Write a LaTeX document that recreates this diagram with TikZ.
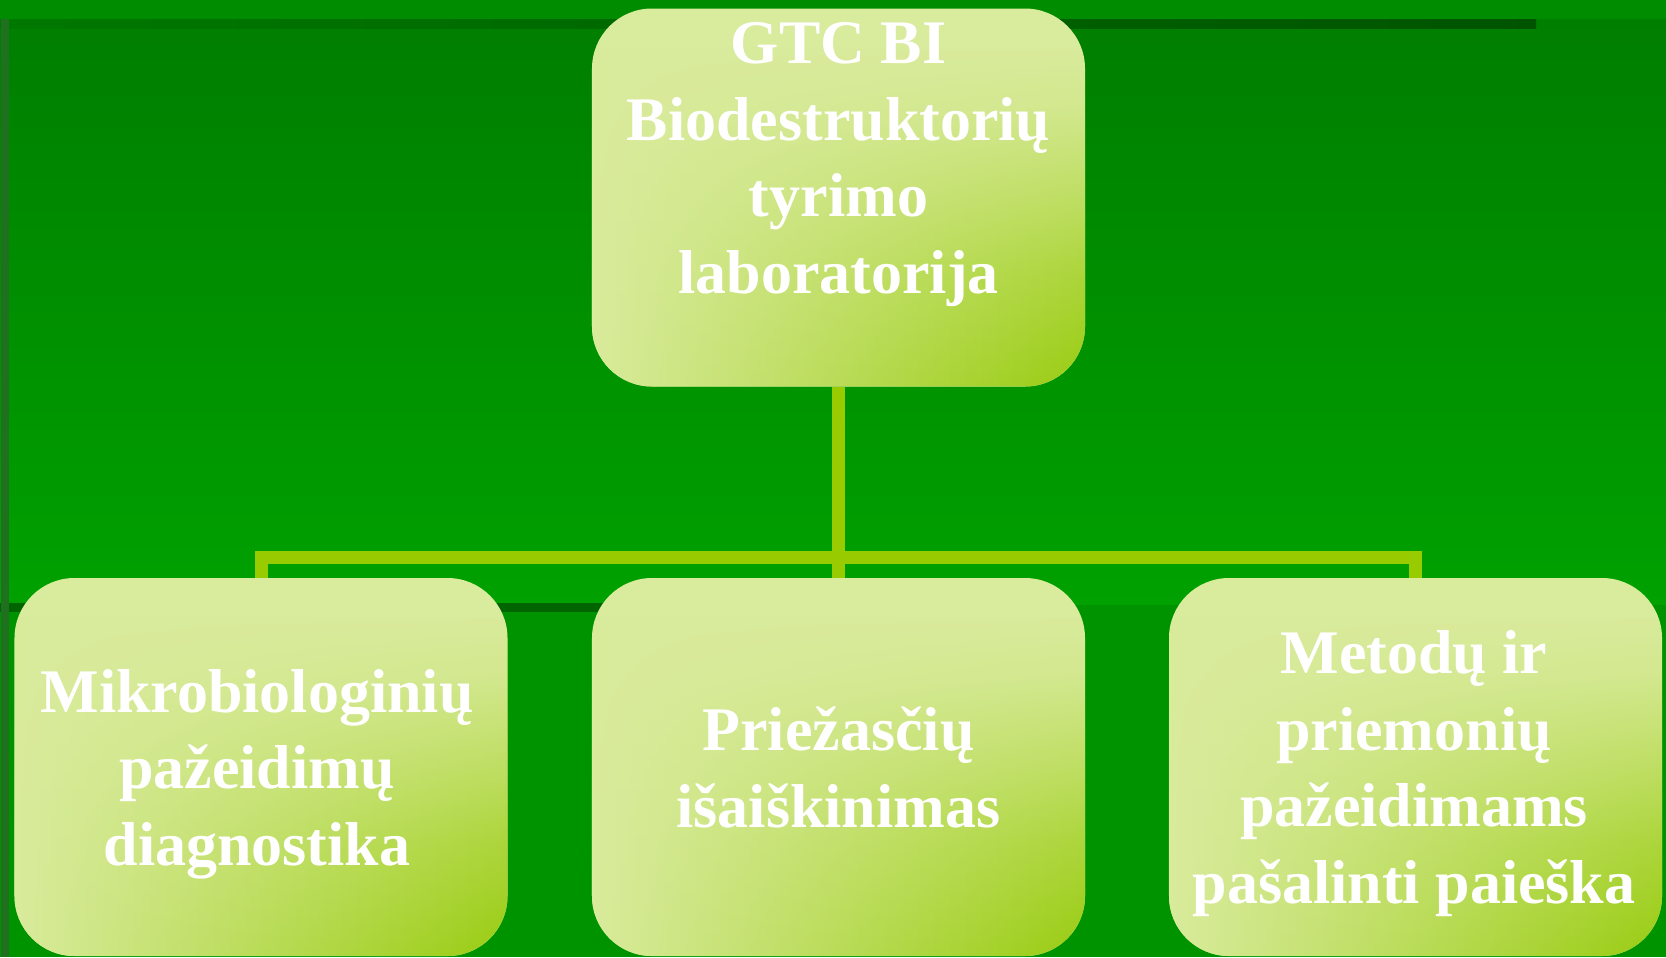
\documentclass[tikz,border=0pt]{standalone}
\usepackage{fontspec}
\setmainfont{Liberation Serif}
\usetikzlibrary{fadings}
\definecolor{bgtop}{HTML}{008C00}
\definecolor{bgupper}{HTML}{007E00}
\definecolor{bglower}{HTML}{00A100}
\definecolor{bgfoot}{HTML}{009300}
\definecolor{bandL}{HTML}{007800}
\definecolor{bandR}{HTML}{005400}
\definecolor{bandB}{HTML}{006400}
\definecolor{stripe}{HTML}{1F701F}
\definecolor{boxlight}{HTML}{D9EB9C}
\definecolor{boxgreen}{HTML}{99CC11}
\definecolor{conncol}{HTML}{99CC00}
\pgfdeclareverticalshading{boxfadeshade}{100bp}{gray(0bp)=(1); gray(25bp)=(1); gray(40bp)=(0.7); gray(50bp)=(0.42); gray(62bp)=(0.1); gray(70bp)=(0); gray(100bp)=(0)}
\pgfdeclarefading{boxfade}{\pgfuseshading{boxfadeshade}}
\begin{document}
\begin{tikzpicture}[x=0.5bp, y=-0.5bp,
  box/.style={rounded corners=30bp, minimum width=246.5bp, minimum height=189bp,
    inner sep=0pt, fill=boxlight,
    postaction={shade, left color=boxlight, right color=boxgreen, path fading=boxfade}},
  boxtext/.style={text=white, align=center, anchor=base, inner sep=0pt,
    font=\fontsize{31bp}{38.25bp}\selectfont\bfseries},
  conn/.style={draw=conncol, line width=6.5bp, line join=miter}]
\useasboundingbox (0,0) rectangle (1666,957);
% background
\fill[bgtop] (0,0) rectangle (1666,19);
\shade[top color=bgupper, bottom color=bglower] (0,19) rectangle (1666,605);
\fill[bgfoot] (0,605) rectangle (1666,957);
\shade[left color=bandL, right color=bandR] (0,19) rectangle (1536,28);
\fill[bandB] (0,603) rectangle (1000,612);
\fill[stripe] (1,19) rectangle (9,957);
% boxes
\node[box] (tb) at (838.5,197.5) {};
\node[box] (lb) at (261,767) {};
\node[box] (mb) at (838.5,767) {};
\node[box] (rb) at (1415.5,767) {};
\coordinate (bar) at (838.5,557);
% connectors
\draw[conn] (tb.south) -- (mb.north);
\draw[conn] (lb.north) |- (bar -| rb.north) -- (rb.north);
% texts (anchor = baseline of last line)
\node[boxtext] (tt) at (838.5,293) {GTC BI\\Biodestruktorių\\tyrimo\\laboratorija};
\node[boxtext] (lt) at (257,865) {Mikrobiologinių\\pažeidimų\\diagnostika};
\node[boxtext] (mt) at (838.5,827) {Priežasčių\\išaiškinimas};
\node[boxtext] (rt) at (1414,903) {Metodų ir\\priemonių\\pažeidimams\\pašalinti paieška};
\end{tikzpicture}
\end{document}
